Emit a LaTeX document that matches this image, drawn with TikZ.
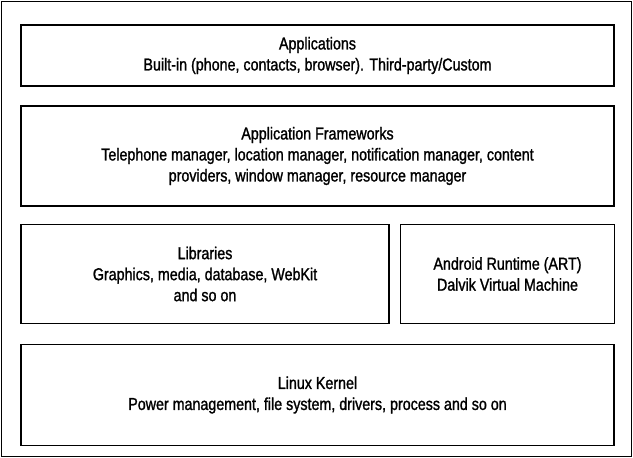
\documentclass[tikz,border=0pt]{standalone}
\usepackage{fontspec}
\setmainfont{Liberation Sans}[FakeStretch=0.83, FakeBold=1.3]
\begin{document}
\begin{tikzpicture}[x=1pt,y=-1pt,
  layer/.style={draw=black, line width=1.4pt, align=center, inner sep=0pt,
    font=\fontsize{17.2}{21}\selectfont, text=black}]
\useasboundingbox (0,0) rectangle (633,458);
\draw[line width=1.8pt] (1.5,1.5) rectangle (631.5,456.5);
\node[layer, minimum width=593pt, minimum height=61pt] (apps) at (317.5,55.5)
  {Applications\\Built-in (phone, contacts, browser). Third-party/Custom};
\node[layer, minimum width=593pt, minimum height=100pt] (fw) at (317.5,156)
  {Application Frameworks\\Telephone manager, location manager, notification manager, content\\providers, window manager, resource manager};
\node[layer, minimum width=368pt, minimum height=99pt] (libs) at (205,274)
  {Libraries\\Graphics, media, database, WebKit\\and so on};
\node[layer, minimum width=214pt, minimum height=99pt] (art) at (507.5,274)
  {Android Runtime (ART)\\Dalvik Virtual Machine};
\node[layer, minimum width=593pt, minimum height=101pt] (kernel) at (317.5,395)
  {Linux Kernel\\Power management, file system, drivers, process and so on};
\end{tikzpicture}
\end{document}
